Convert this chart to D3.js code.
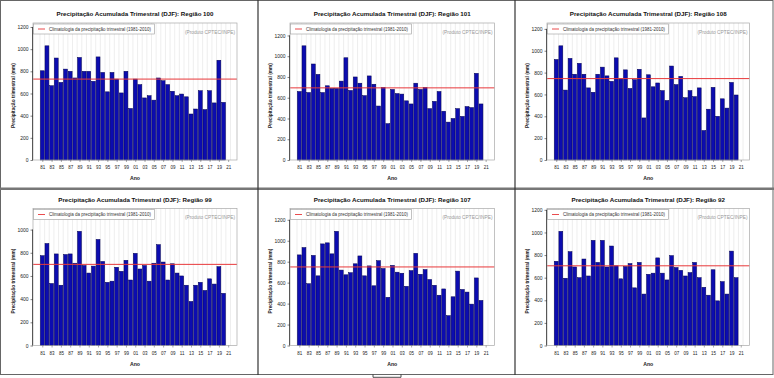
<!DOCTYPE html>
<html><head><meta charset="utf-8">
<script src="https://cdn.jsdelivr.net/npm/d3@7"></script>
<style>body{margin:0;background:#fff}svg{display:block}text{font-family:"Liberation Sans",Arial,Helvetica,sans-serif}</style>
</head><body>
<svg id="c" width="774" height="378"></svg>
<script>
// ---- data ----
const years = d3.range(1981, 2021);
const xTickYears = d3.range(1981, 2022, 2);
const xTickLabels = ["81","83","85","87","89","91","93","95","97","99","01","03","05","07","09","11","13","15","17","19","21"];
const regionNames = ["Região 100","Região 101","Região 108","Região 99","Região 107","Região 92"];
const reg100 = [805,1030,670,920,700,820,800,740,925,800,800,710,930,790,615,790,730,605,800,465,730,680,560,580,540,740,715,680,620,580,595,570,415,460,625,455,625,515,900,520];
const reg101 = [660,1100,650,925,825,650,715,690,690,760,985,670,800,740,620,810,730,520,700,350,680,640,635,570,540,740,680,700,495,565,660,470,365,400,495,420,515,505,835,540];
const reg108 = [920,1045,640,930,785,885,785,660,620,785,850,770,720,935,745,825,655,735,830,385,780,670,705,635,545,860,690,765,570,635,580,660,270,465,665,400,560,475,710,595];
const reg99  = [775,880,535,790,520,785,790,710,985,690,625,685,915,725,545,555,675,640,735,565,795,660,690,555,710,870,720,565,705,625,600,520,380,520,545,475,575,530,680,450];
const reg107 = [865,935,590,860,665,970,980,875,1090,720,675,695,780,855,665,760,570,810,735,460,765,700,690,565,715,880,680,725,630,575,480,540,285,465,710,535,510,395,645,430];
const reg92  = [745,1010,595,830,695,600,765,615,930,735,930,695,880,705,590,700,725,510,735,455,630,640,775,640,580,795,690,665,615,645,735,600,515,445,670,395,565,455,835,600];
const climatology = [730, 695, 745, 700, 750, 705];
const titlePrefix = "Precipitação Acumulada Trimestral (DJF): ";
const legendText = "Climatologia da precipitação trimestral (1981-2010)";
const sourceText = "(Produto CPTEC/INPE)";
const yTitle = "Precipitação trimestral (mm)";
const xTitle = "Ano";
const seriesList = [reg100, reg101, reg108, reg99, reg107, reg92];

// ---- layout ----
const svg = d3.select("#c");
const colL = [33, 290, 547], colR = [237, 494.5, 749.5];
const rowT = [23, 208.5], rowB = [160, 345.5];
const rowTitle = [14, 199.5], rowXT = [167, 353.5], rowAno = [178, 364];

// frames
const frames = svg.append("g");
frames.append("rect").attr("x",0.5).attr("y",0.5).attr("width",772.5).attr("height",374).attr("fill","none").attr("stroke","#666").attr("stroke-width",1);
frames.append("line").attr("x1",0).attr("x2",774).attr("y1",188.8).attr("y2",188.8).attr("stroke","#777").attr("stroke-width",2.5);
[258,515].forEach(x=>frames.append("line").attr("x1",x).attr("x2",x).attr("y1",0).attr("y2",375).attr("stroke","#333").attr("stroke-width",1.2));
frames.append("path").attr("d","M373,374.5V377.3H401V374.5").attr("fill","none").attr("stroke","#222").attr("stroke-width",0.8);

seriesList.forEach((vals, i) => {
  const c = i % 3, r = Math.floor(i / 3);
  const L = colL[c], R = colR[c], T = rowT[r], B = rowB[r];
  const g = svg.append("g");
  const x = d3.scaleLinear().domain([1979, 2022.9]).range([L, R]);
  const ymax = d3.max(vals) * 1.2;
  const y = d3.scaleLinear().domain([0, ymax]).range([B, T]);
  const step = x(1982) - x(1981);

  // grid lines
  g.selectAll(".gl").data(d3.range(1980.5, 2022.5, 1)).join("line")
    .attr("x1", d => x(d)).attr("x2", d => x(d)).attr("y1", T).attr("y2", B)
    .attr("stroke", "#e2e2e2").attr("stroke-width", 0.6);

  // bars
  g.selectAll(".bar").data(years.map((yr, k) => ({yr, v: vals[k]}))).join("rect")
    .attr("x", d => x(d.yr) - step * 0.42).attr("width", step * 0.84)
    .attr("y", d => y(d.v)).attr("height", d => B - y(d.v))
    .attr("fill", "#0c0cb0").attr("stroke", "#000050").attr("stroke-width", 0.5);

  // climatology line
  g.append("line").attr("x1", L).attr("x2", R).attr("y1", y(climatology[i])).attr("y2", y(climatology[i]))
    .attr("stroke", "#e8383a").attr("stroke-width", 1);

  // plot box
  g.append("rect").attr("x", L).attr("y", T).attr("width", R - L).attr("height", B - T)
    .attr("fill", "none").attr("stroke", "#a8a8a8").attr("stroke-width", 0.7);

  // y axis
  const yAxis = d3.axisLeft(y).tickValues(d3.range(0, ymax, 200)).tickSize(2.5).tickPadding(2).tickFormat(d3.format("d"));
  const ya = g.append("g").attr("transform", `translate(${L},0)`).call(yAxis);
  ya.select(".domain").attr("d", `M-0.5,${y(0)}V${y(d3.max(d3.range(0, ymax, 200)))}`).attr("stroke", "#333").attr("stroke-width", 0.8);
  ya.selectAll(".tick line").attr("stroke", "#333").attr("stroke-width", 0.6);
  ya.selectAll(".tick text").attr("font-size", 5).attr("fill", "#222").attr("font-family", '"Liberation Sans",Arial,sans-serif');

  // x axis
  const xAxis = d3.axisBottom(x).tickValues(xTickYears).tickSize(2).tickPadding(1.5)
    .tickFormat((d, k) => xTickLabels[k]);
  const xa = g.append("g").attr("transform", `translate(0,${B})`).call(xAxis);
  xa.select(".domain").remove();
  xa.selectAll(".tick line").attr("stroke", "#555").attr("stroke-width", 0.5);
  xa.selectAll(".tick text").attr("font-size", 4.5).attr("fill", "#222").attr("font-family", '"Liberation Sans",Arial,sans-serif')
    .attr("y", rowXT[r] - B + 1.5).attr("dy", 0);

  // title
  g.append("text").attr("x", (L + R) / 2).attr("y", rowTitle[r] + 2.2).attr("text-anchor", "middle")
    .attr("font-size", 6.2).attr("font-weight", "bold").attr("fill", "#111").text(titlePrefix + regionNames[i]);

  // legend
  g.append("rect").attr("x", L + 0.5).attr("y", T + 1).attr("width", 121).attr("height", 10)
    .attr("fill", "#fff").attr("stroke", "#999").attr("stroke-width", 0.6);
  g.append("line").attr("x1", L + 5).attr("x2", L + 12).attr("y1", T + 6).attr("y2", T + 6)
    .attr("stroke", "#e8383a").attr("stroke-width", 0.9);
  g.append("text").attr("x", L + 16).attr("y", T + 7.6).attr("font-size", 4.5).attr("fill", "#333").text(legendText);

  // source
  g.append("text").attr("x", R - 2).attr("y", T + 10.5).attr("text-anchor", "end")
    .attr("font-size", 4.8).attr("fill", "#999").text(sourceText);

  // axis titles
  g.append("text").attr("transform", `translate(${L - 18.5},${(T + B) / 2 + 4}) rotate(-90)`).attr("text-anchor", "middle")
    .attr("font-size", 4.8).attr("font-weight", "bold").attr("fill", "#222").text(yTitle);
  g.append("text").attr("x", (L + R) / 2).attr("y", rowAno[r] + 2).attr("text-anchor", "middle")
    .attr("font-size", 5.2).attr("font-weight", "bold").attr("fill", "#222").text(xTitle);
});
</script>
</body></html>
